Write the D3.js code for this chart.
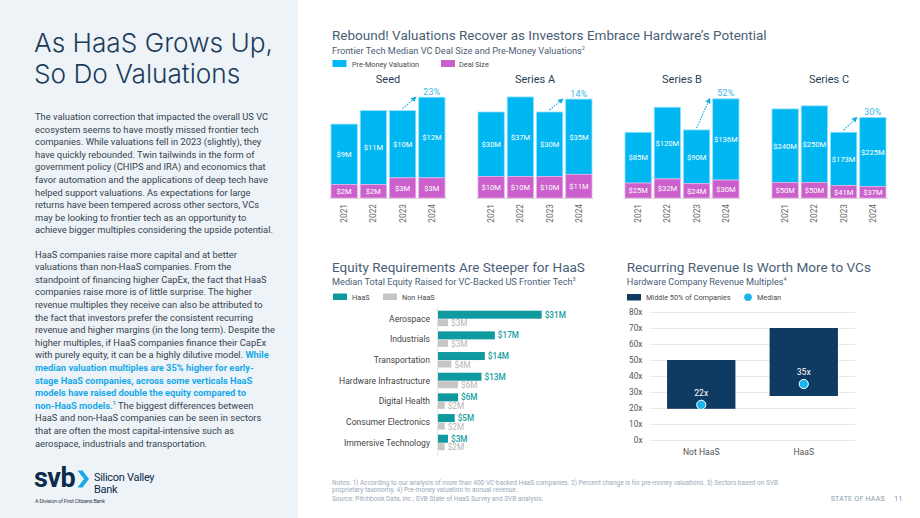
<!DOCTYPE html>
<html><head><meta charset="utf-8">
<script src="https://cdn.jsdelivr.net/npm/d3@7"></script>
<style>
body{margin:0;background:#fff;}
svg{display:block;font-family:Roboto,"Liberation Sans",sans-serif;}
</style></head><body>
<svg id="c" width="920" height="518"></svg>
<script>
// ---------- DATA ----------
const years = ["2021","2022","2023","2024"];
const stages = ["Seed","Series A","Series B","Series C"];
const seedPre = [9,11,10,12],       seedDeal = [2,2,3,3];
const seriesAPre = [30,37,30,35],   seriesADeal = [10,10,10,11];
const seriesBPre = [85,120,90,136], seriesBDeal = [25,32,24,30];
const seriesCPre = [240,250,173,225], seriesCDeal = [50,50,41,37];
const pctChange = ["23%","14%","52%","30%"];
const stageAxisMax = [16,50,180,350];

const sectors = ["Aerospace","Industrials","Transportation","Hardware Infrastructure","Digital Health","Consumer Electronics","Immersive Technology"];
const haasEquity = [31,17,14,13,6,5,3];
const nonHaasEquity = [3,3,4,6,2,2,2];

const multCats = ["Not HaaS","HaaS"];
const multLow = [19.5,27.5];
const multHigh = [50,70];
const multMedian = [22,35];
const multTicks = [0,10,20,30,40,50,60,70,80];

const para1 = [
"The valuation correction that impacted the overall US VC",
"ecosystem seems to have mostly missed frontier tech",
"companies. While valuations fell in 2023 (slightly), they",
"have quickly rebounded. Twin tailwinds in the form of",
"government policy (CHIPS and IRA) and economics that",
"favor automation and the applications of deep tech have",
"helped support valuations. As expectations for large",
"returns have been tempered across other sectors, VCs",
"may be looking to frontier tech as an opportunity to",
"achieve bigger multiples considering the upside potential."];
// each line: array of [text, style] ; style: n normal, h highlight, s superscript
const para2 = [
[["HaaS companies raise more capital and at better","n"]],
[["valuations than non-HaaS companies. From the","n"]],
[["standpoint of financing higher CapEx, the fact that HaaS","n"]],
[["companies raise more is of little surprise. The higher","n"]],
[["revenue multiples they receive can also be attributed to","n"]],
[["the fact that investors prefer the consistent recurring","n"]],
[["revenue and higher margins (in the long term). Despite the","n"]],
[["higher multiples, if HaaS companies finance their CapEx","n"]],
[["with purely equity, it can be a highly dilutive model. ","n"],["While","h"]],
[["median valuation multiples are 35% higher for early-","h"]],
[["stage HaaS companies, across some verticals HaaS","h"]],
[["models have raised double the equity compared to","h"]],
[["non-HaaS models.","h"],["1","s"],[" The biggest differences between","n"]],
[["HaaS and non-HaaS companies can be seen in sectors","n"]],
[["that are often the most capital-intensive such as","n"]],
[["aerospace, industrials and transportation.","n"]]];

// ---------- HELPERS ----------
const svg = d3.select("#c");
const NAVY = "#1c3c5b", SLATE = "#4a6076", CYAN = "#00b7f1", MAG = "#cb60cc",
      TEAL = "#0f9a9f", GRAY = "#c6c6c6", BOX = "#0f3a61";
function fit(sel, target){
  const w = sel.node().getComputedTextLength();
  const fs = parseFloat(sel.attr("font-size"));
  const nf = fs*target/w;
  sel.attr("font-size", nf);
  return nf;
}
function sup(sel, txt, fs){
  sel.append("tspan").attr("font-size", fs*0.6).attr("dy", -fs*0.38).text(txt);
}

// ---------- LEFT PANEL ----------
svg.append("rect").attr("x",0).attr("y",0).attr("width",298).attr("height",518).attr("fill","#eef3f7");
const t1 = svg.append("text").attr("x",34).attr("y",51.7).attr("font-size",28)
  .attr("font-weight",300).attr("fill",NAVY).attr("font-family","Inter, Roboto, sans-serif")
  .text("As HaaS Grows Up,");
const tfs = fit(t1, 239);
svg.append("text").attr("x",34).attr("y",83).attr("font-size",tfs)
  .attr("font-weight",300).attr("fill",NAVY).attr("font-family","Inter, Roboto, sans-serif")
  .text("So Do Valuations");

const probe = svg.append("text").attr("font-size",9).text(para1[9]);
const bodyFs = fit(probe, 238);
probe.remove();
const lineH = 12.6;
svg.append("g").selectAll("text").data(para1).join("text")
  .attr("x",35).attr("y",(d,i)=>120 + i*lineH)
  .attr("font-size",bodyFs).attr("fill","#35434f").text(d=>d);
const p2 = svg.append("g").selectAll("text").data(para2).join("text")
  .attr("x",35).attr("y",(d,i)=>257.5 + i*lineH)
  .attr("font-size",bodyFs).attr("fill","#35434f");
p2.each(function(segs){
  const t = d3.select(this);
  segs.forEach(([txt,st])=>{
    const sp = t.append("tspan").text(txt);
    if(st==="h") sp.attr("fill","#17a9e9").attr("font-weight",700);
    if(st==="s") sp.attr("fill","#17a9e9").attr("font-weight",700).attr("font-size",bodyFs*0.6).attr("dy",-bodyFs*0.4);
    if(st==="n" && segs.some(s=>s[1]==="s")) sp.attr("dy", bodyFs*0.4);
  });
});

// logo
const svbT = svg.append("text").attr("x",34).attr("y",487).attr("font-size",24).attr("font-weight",700)
  .attr("fill","#0d2b4a").attr("letter-spacing",-0.5).text("svb");
fit(svbT, 41);
svg.append("polygon").attr("points","77.5,470.5 82.5,470.5 89,479 82.5,487.5 77.5,487.5 84,479").attr("fill","#18a9ea");
svg.append("text").attr("x",94).attr("y",481).attr("font-size",11).attr("fill","#0d2b4a").attr("letter-spacing",-0.3).text("Silicon Valley");
svg.append("text").attr("x",94).attr("y",492.6).attr("font-size",11).attr("fill","#0d2b4a").attr("letter-spacing",-0.3).text("Bank");
const divT = svg.append("text").attr("x",35).attr("y",502.7).attr("font-size",6.5).attr("fill","#2d3a48").attr("letter-spacing",-0.2).text("A Division of First Citizens Bank");
fit(divT, 71);

// ---------- TOP CHART ----------
const mt = svg.append("text").attr("x",332).attr("y",40).attr("font-size",13).attr("fill",SLATE).text("Rebound! Valuations Recover as Investors Embrace Hardware\u2019s Potential");
fit(mt, 435);
const st = svg.append("text").attr("x",332).attr("y",54).attr("font-size",10).attr("fill",SLATE).text("Frontier Tech Median VC Deal Size and Pre-Money Valuations");
const stfs = fit(st, 250); sup(st,"2",stfs);

svg.append("rect").attr("x",332.5).attr("y",60).attr("width",14).attr("height",7).attr("fill",CYAN);
svg.append("text").attr("x",352).attr("y",66.5).attr("font-size",7.3).attr("fill","#4a4a4a").text("Pre-Money Valuation");
svg.append("rect").attr("x",441).attr("y",60).attr("width",14).attr("height",7).attr("fill",MAG);
svg.append("text").attr("x",459).attr("y",66.5).attr("font-size",7.3).attr("fill","#4a4a4a").text("Deal Size");

const defs = svg.append("defs");
defs.append("marker").attr("id","arr").attr("viewBox","0 0 10 10").attr("refX",8).attr("refY",5)
  .attr("markerWidth",5).attr("markerHeight",5).attr("orient","auto-start-reverse")
  .append("path").attr("d","M0,0 L10,5 L0,10 z").attr("fill","#1aa9e6");

const preSets = [seedPre, seriesAPre, seriesBPre, seriesCPre];
const dealSets = [seedDeal, seriesADeal, seriesBDeal, seriesCDeal];
const baseY = 198, plotH = 107.5;
stages.forEach((stage, si)=>{
  const x0 = 331 + si*147, w = 114;
  const x = d3.scaleBand().domain(years).range([x0, x0+w]).paddingInner(0.1).paddingOuter(0);
  const y = d3.scaleLinear().domain([0, stageAxisMax[si]]).range([baseY, baseY-plotH]);
  const g = svg.append("g");
  const pre = preSets[si], deal = dealSets[si];
  const rows = years.map((yr,i)=>({yr, pre:pre[i], deal:deal[i]}));
  g.append("text").attr("x",x0+w/2).attr("y",83).attr("text-anchor","middle")
    .attr("font-size",11).attr("fill","#2a3f55").text(stage);
  g.append("line").attr("x1",x0-2).attr("x2",x0+w+2).attr("y1",baseY+0.5).attr("y2",baseY+0.5)
    .attr("stroke","#dcdcdc").attr("stroke-width",1);
  g.selectAll(".pre").data(rows).join("rect")
    .attr("x",d=>x(d.yr)).attr("width",x.bandwidth())
    .attr("y",d=>y(d.deal+d.pre)).attr("height",d=>y(d.deal)-y(d.deal+d.pre))
    .attr("fill",CYAN).attr("stroke","#8fe0fb").attr("stroke-width",0.8);
  g.selectAll(".deal").data(rows).join("rect")
    .attr("x",d=>x(d.yr)).attr("width",x.bandwidth())
    .attr("y",d=>y(d.deal)).attr("height",d=>y(0)-y(d.deal))
    .attr("fill",MAG).attr("stroke","#e4b0e6").attr("stroke-width",0.8);
  g.selectAll(".pl").data(rows).join("text")
    .attr("x",d=>x(d.yr)+x.bandwidth()/2).attr("y",d=>(y(d.deal)+y(d.deal+d.pre))/2+2.8)
    .attr("text-anchor","middle").attr("font-size",7.6).attr("fill","#fff").text(d=>"$"+d.pre+"M");
  g.selectAll(".dl").data(rows).join("text")
    .attr("x",d=>x(d.yr)+x.bandwidth()/2).attr("y",d=>(y(0)+y(d.deal))/2+2.8)
    .attr("text-anchor","middle").attr("font-size",7.6).attr("fill","#fff").text(d=>"$"+d.deal+"M");
  g.selectAll(".yl").data(years).join("text")
    .attr("transform",d=>`translate(${x(d)+x.bandwidth()/2+3},204) rotate(-90)`)
    .attr("text-anchor","end").attr("font-size",8.3).attr("fill","#666").text(d=>d);
  const r3 = rows[2], r4 = rows[3];
  g.append("line")
    .attr("x1",x("2023")+x.bandwidth()/2).attr("y1",y(r3.deal+r3.pre)-2)
    .attr("x2",x("2024")-3).attr("y2",y(r4.deal+r4.pre))
    .attr("stroke","#1aa9e6").attr("stroke-width",1.1).attr("stroke-dasharray","1.6,1.2")
    .attr("marker-end","url(#arr)");
  g.append("text").attr("x",x("2024")+x.bandwidth()/2).attr("y",y(r4.deal+r4.pre)-2.5)
    .attr("text-anchor","middle").attr("font-size",8.8).attr("fill","#35b6ec").attr("letter-spacing",0.3)
    .text(pctChange[si]);
});

// ---------- EQUITY CHART ----------
const et = svg.append("text").attr("x",332).attr("y",272.3).attr("font-size",13).attr("fill",SLATE).text("Equity Requirements Are Steeper for HaaS");
fit(et, 253);
const es = svg.append("text").attr("x",332).attr("y",284.5).attr("font-size",10).attr("fill",SLATE).text("Median Total Equity Raised for VC-Backed US Frontier Tech");
const esfs = fit(es, 241); sup(es,"3",esfs);
svg.append("rect").attr("x",333).attr("y",293.5).attr("width",14).attr("height",6.5).attr("fill",TEAL);
svg.append("text").attr("x",352).attr("y",300).attr("font-size",7.3).attr("fill","#4a4a4a").text("HaaS");
svg.append("rect").attr("x",383).attr("y",293.5).attr("width",14).attr("height",6.5).attr("fill",GRAY);
svg.append("text").attr("x",402).attr("y",300).attr("font-size",7.3).attr("fill","#4a4a4a").text("Non HaaS");

const ex = d3.scaleLinear().domain([0,31]).range([438,541.7]);
const ey = d3.scaleBand().domain(sectors).range([309.7, 309.7+7*20.67]).padding(0);
const eg = svg.append("g");
eg.append("line").attr("x1",437.5).attr("x2",437.5).attr("y1",307).attr("y2",456).attr("stroke","#e6e6e6");
const erows = sectors.map((s,i)=>({s, h:haasEquity[i], n:nonHaasEquity[i]}));
eg.selectAll(".hb").data(erows).join("rect").attr("x",ex(0)).attr("y",d=>ey(d.s)+1)
  .attr("width",d=>ex(d.h)-ex(0)).attr("height",8).attr("fill",TEAL);
eg.selectAll(".nb").data(erows).join("rect").attr("x",ex(0)).attr("y",d=>ey(d.s)+9.5)
  .attr("width",d=>ex(d.n)-ex(0)).attr("height",7).attr("fill",GRAY);
eg.selectAll(".hl").data(erows).join("text").attr("x",d=>ex(d.h)+3).attr("y",d=>ey(d.s)+7.9)
  .attr("font-size",8.2).attr("font-weight",500).attr("fill","#139ea2").text(d=>"$"+d.h+"M");
eg.selectAll(".nl").data(erows).join("text").attr("x",d=>ex(d.n)+3).attr("y",d=>ey(d.s)+16.6)
  .attr("font-size",8.2).attr("fill","#b5b5b5").text(d=>"$"+d.n+"M");
eg.selectAll(".cl").data(erows).join("text").attr("x",430).attr("y",d=>ey(d.s)+11.8)
  .attr("text-anchor","end").attr("font-size",8.6).attr("fill","#444").text(d=>d.s);

// ---------- RECURRING REVENUE CHART ----------
const rt = svg.append("text").attr("x",626.7).attr("y",271.7).attr("font-size",13).attr("fill",SLATE).text("Recurring Revenue Is Worth More to VCs");
fit(rt, 244.3);
const rs = svg.append("text").attr("x",626.7).attr("y",284.5).attr("font-size",10).attr("fill",SLATE).text("Hardware Company Revenue Multiples");
const rsfs = fit(rs, 157); sup(rs,"4",rsfs);
svg.append("rect").attr("x",627).attr("y",294).attr("width",14).attr("height",6.5).attr("fill",BOX);
svg.append("text").attr("x",646).attr("y",300).attr("font-size",7.3).attr("fill","#4a4a4a").text("Middle 50% of Companies");
svg.append("circle").attr("cx",748).attr("cy",297.3).attr("r",3.8).attr("fill","#19b5ee");
svg.append("text").attr("x",757).attr("y",300).attr("font-size",7.3).attr("fill","#4a4a4a").text("Median");

const rx = d3.scaleBand().domain(multCats).range([650,855]).paddingInner(1/3).paddingOuter(1/6);
const ry = d3.scaleLinear().domain([0,80]).range([440,312]);
const rg = svg.append("g");
rg.selectAll(".grid").data(multTicks).join("line").attr("x1",650).attr("x2",855)
  .attr("y1",d=>ry(d)+0.5).attr("y2",d=>ry(d)+0.5).attr("stroke","#e9e9e9");
rg.selectAll(".tk").data(multTicks).join("text").attr("x",642.5).attr("y",d=>ry(d)+3)
  .attr("text-anchor","end").attr("font-size",8.3).attr("fill","#555").text(d=>d+"x");
const mrows = multCats.map((c,i)=>({c, lo:multLow[i], hi:multHigh[i], m:multMedian[i]}));
rg.selectAll(".box").data(mrows).join("rect").attr("x",d=>rx(d.c)).attr("width",rx.bandwidth())
  .attr("y",d=>ry(d.hi)).attr("height",d=>ry(d.lo)-ry(d.hi)).attr("fill",BOX);
rg.selectAll(".med").data(mrows).join("circle").attr("cx",d=>rx(d.c)+rx.bandwidth()/2).attr("cy",d=>ry(d.m))
  .attr("r",4.6).attr("fill","#19b5ee").attr("stroke","#fff").attr("stroke-width",1);
rg.selectAll(".ml").data(mrows).join("text").attr("x",d=>rx(d.c)+rx.bandwidth()/2).attr("y",d=>ry(d.m)-9)
  .attr("text-anchor","middle").attr("font-size",8.6).attr("fill","#fff").text(d=>d.m+"x");
rg.selectAll(".xl").data(multCats).join("text").attr("x",d=>rx(d)+rx.bandwidth()/2).attr("y",455)
  .attr("text-anchor","middle").attr("font-size",8.6).attr("fill","#555").text(d=>d);

// ---------- FOOTER ----------
const n1 = svg.append("text").attr("x",332).attr("y",485).attr("font-size",6).attr("fill","#9aa9b7")
  .text("Notes: 1) According to our analysis of more than 400 VC-backed HaaS companies. 2) Percent change is for pre-money valuations. 3) Sectors based on SVB");
const nfs = fit(n1, 447);
svg.append("text").attr("x",332).attr("y",492).attr("font-size",nfs).attr("fill","#9aa9b7")
  .text("proprietary taxonomy. 4) Pre-money valuation to annual revenue.");
svg.append("text").attr("x",332).attr("y",500.5).attr("font-size",nfs).attr("fill","#9aa9b7")
  .text("Source: Pitchbook Data, Inc., SVB State of HaaS Survey and SVB analysis.");
const sh = svg.append("text").attr("x",830.7).attr("y",501).attr("font-size",7.5).attr("fill","#8a99a8").attr("letter-spacing",0.3).text("STATE OF HAAS");
fit(sh, 54);
svg.append("text").attr("x",894).attr("y",501).attr("font-size",7.5).attr("fill","#8a99a8").text("11");
</script></body></html>
